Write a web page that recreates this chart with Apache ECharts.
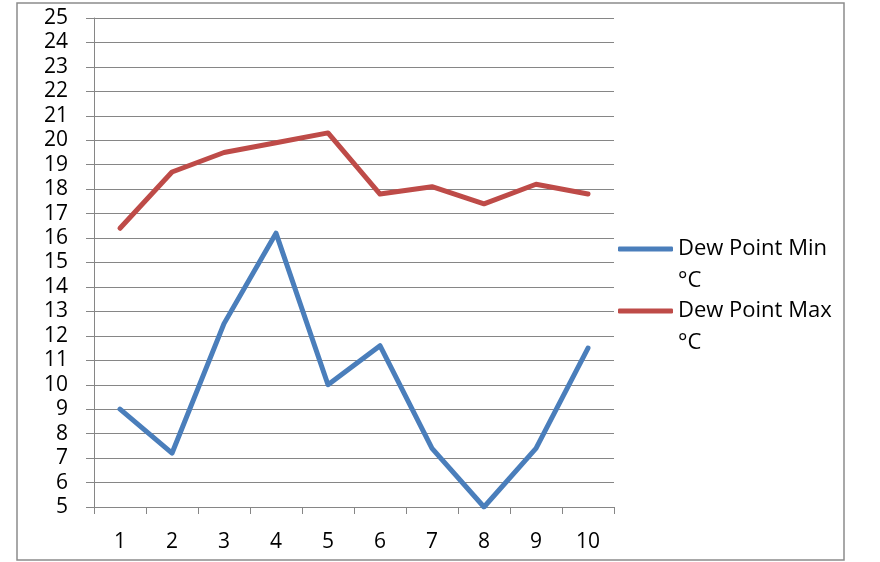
<!DOCTYPE html>
<html>
<head>
<meta charset="utf-8">
<script src="https://cdn.jsdelivr.net/npm/echarts@6/dist/echarts.min.js"></script>
<style>
html,body{margin:0;padding:0;background:#fff;}
#c{width:880px;height:562px;}
</style>
</head>
<body>
<div id="c"></div>
<script>
const categories = ['1','2','3','4','5','6','7','8','9','10'];
const dewMin = [9.0, 7.2, 12.5, 16.2, 10.0, 11.6, 7.4, 5.0, 7.4, 11.5];
const dewMax = [16.4, 18.7, 19.5, 19.9, 20.3, 17.8, 18.1, 17.4, 18.2, 17.8];
const seriesNames = ['Dew Point Min\n°C', 'Dew Point Max\n°C'];

const FONT = '"Open Sans", "Liberation Sans", sans-serif';
const chart = echarts.init(document.getElementById('c'), null, {renderer: 'canvas'});
chart.setOption({
  animation: false,
  backgroundColor: '#fff',
  graphic: [{
    type: 'rect',
    shape: {x: 17, y: 3, width: 827, height: 557},
    style: {fill: 'none', stroke: '#8c8c8c', lineWidth: 1.5},
    silent: true
  }],
  grid: {left: 94, right: 266, top: 18, bottom: 55, containLabel: false},
  legend: {
    orient: 'vertical',
    left: 618,
    top: 201,
    padding: 0,
    itemGap: -34,
    itemWidth: 55,
    itemHeight: 5,
    icon: 'roundRect',
    formatter: function (name) { return ' \n' + name; },
    textStyle: {
      fontFamily: FONT, fontSize: 22, color: '#000', lineHeight: 32
    },
    data: seriesNames
  },
  xAxis: {
    type: 'category',
    data: categories,
    boundaryGap: true,
    axisLine: {lineStyle: {color: '#868686', width: 1}},
    axisTick: {show: true, length: 7, alignWithLabel: false, lineStyle: {color: '#868686'}},
    axisLabel: {fontFamily: FONT, fontSize: 21, color: '#000', margin: 25, interval: 0},
    splitLine: {show: false}
  },
  yAxis: {
    type: 'value',
    min: 5, max: 25, interval: 1,
    axisLine: {show: true, lineStyle: {color: '#868686', width: 1}},
    axisTick: {show: true, length: 8, lineStyle: {color: '#868686'}},
    axisLabel: {fontFamily: FONT, fontSize: 21, color: '#000', margin: 26},
    splitLine: {show: true, lineStyle: {color: '#868686', width: 1}}
  },
  series: [
    {
      name: seriesNames[0], type: 'line', data: dewMin,
      symbol: 'none', clip: true,
      lineStyle: {color: '#4a7ebb', width: 5, join: 'round', cap: 'round'},
      itemStyle: {color: '#4a7ebb'}
    },
    {
      name: seriesNames[1], type: 'line', data: dewMax,
      symbol: 'none', clip: true,
      lineStyle: {color: '#be4b48', width: 5, join: 'round', cap: 'round'},
      itemStyle: {color: '#be4b48'}
    }
  ]
});
</script>
</body>
</html>
